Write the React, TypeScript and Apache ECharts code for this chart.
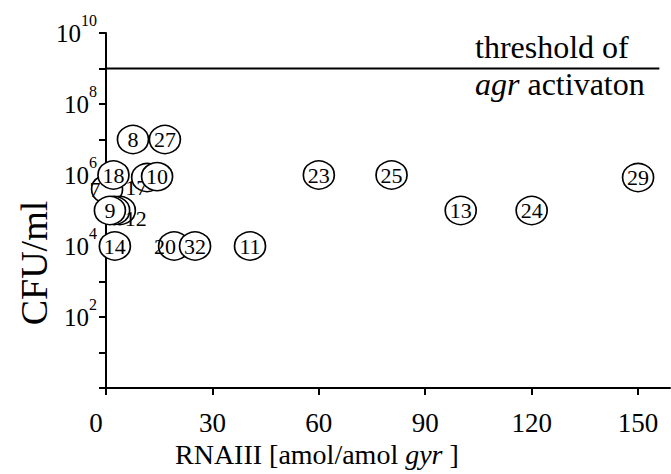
import React, { useEffect, useRef } from 'react';
import * as echarts from 'echarts';

// ---- data ----
const xTickValues = [0, 30, 60, 90, 120, 150];
const yTickValues = [1, 1e1, 1e2, 1e3, 1e4, 1e5, 1e6, 1e7, 1e8, 1e9, 1e10];
const yLabelValues = [1e2, 1e4, 1e6, 1e8, 1e10];

// visible (front) strains
const frontIds = ['8', '27', '18', '10', '9', '14', '32', '11', '23', '25', '13', '24', '29'];
const frontRna = [7.6, 16.6, 2.1, 14.4, 1.1, 2.5, 25.1, 40.6, 60, 80.5, 100, 120, 150];
const frontCfu = [1e7, 1e7, 1e6, 9e5, 1e5, 1e4, 1e4, 1e4, 1e6, 1e6, 1e5, 1e5, 8.5e5];

// partly hidden (back) strains
const backIds = ['7', '17', '12', '', '20'];
const backRna = [0.3, 11.6, 3.9, 2.3, 19.2];
const backCfu = [4e5, 8.5e5, 1e5, 1e5, 1e4];

const thresholdCfu = 1e9;
const thresholdRna = [0, 156];

// label offsets (style, not data)
const labelOffsets: Record<string, number[]> = {
  '7': [-12, 0],
  '17': [-11, 10],
  '12': [16, 8],
  '20': [-9, 0],
};

const FONT = 'Liberation Serif';

export default function App() {
  const ref = useRef<HTMLDivElement>(null);
  useEffect(() => {
    if (!ref.current) return;
    const chart = echarts.init(ref.current, null, { renderer: 'svg' });

    const mk = (ids: string[], xs: number[], ys: number[]) =>
      ids.map((id, i) => ({
        name: id,
        value: [xs[i], ys[i]],
        label: labelOffsets[id] ? { offset: labelOffsets[id] } : undefined,
      }));

    const circleStyle = {
      type: 'scatter',
      symbol: 'circle',
      symbolSize: [31, 28],
      itemStyle: { color: '#fff', borderColor: '#000', borderWidth: 1.6, opacity: 1 },
      label: {
        show: true,
        position: 'inside',
        formatter: (p: any) => p.name,
        color: '#000',
        fontSize: 22,
        fontFamily: FONT,
      },
      emphasis: { disabled: true },
    };

    chart.setOption({
      animation: false,
      backgroundColor: '#fff',
      textStyle: { fontFamily: FONT, color: '#000' },
      grid: { left: 106, right: 1, top: 33, bottom: 86, containLabel: false },
      xAxis: {
        type: 'value',
        min: 0,
        max: 159,
        axisLine: { onZero: false, lineStyle: { color: '#000', width: 2 } },
        axisTick: {
          show: true,
          length: 7,
          customValues: xTickValues,
          lineStyle: { color: '#000', width: 2 },
        },
        axisLabel: {
          customValues: xTickValues,
          margin: 21,
          color: '#000',
          fontSize: 27,
          fontFamily: FONT,
          formatter: (v: number) => (v === 0 ? '{z|0}' : '{n|' + v + '}'),
          rich: {
            n: { fontSize: 27, fontFamily: FONT, color: '#000' },
            z: { fontSize: 27, fontFamily: FONT, color: '#000', padding: [0, 20, 0, 0] },
          },
        },
        splitLine: { show: false },
      },
      yAxis: {
        type: 'log',
        logBase: 10,
        min: 1,
        max: 1e10,
        axisLine: { show: true, onZero: false, lineStyle: { color: '#000', width: 2 } },
        axisTick: {
          show: true,
          length: 7,
          customValues: yTickValues,
          lineStyle: { color: '#000', width: 2 },
        },
        axisLabel: {
          customValues: yLabelValues,
          margin: 9,
          fontFamily: FONT,
          color: '#000',
          formatter: (v: number) => {
            const e = Math.round(Math.log10(v));
            if (e === 0 || e % 2 !== 0) return '';
            return `{b|10}{e|${e}}`;
          },
          rich: {
            b: { fontSize: 25, lineHeight: 25, fontFamily: FONT, color: '#000' },
            e: { fontSize: 16, lineHeight: 16, fontFamily: FONT, color: '#000', padding: [0, 0, 26, 0] },
          },
        },
        splitLine: { show: false },
      },
      series: [
        {
          type: 'line',
          data: thresholdRna.map((x) => [x, thresholdCfu]),
          symbol: 'none',
          lineStyle: { color: '#000', width: 2.2 },
          z: 1,
          silent: true,
        },
        { ...circleStyle, z: 2, data: mk(backIds, backRna, backCfu) },
        { ...circleStyle, z: 3, data: mk(frontIds, frontRna, frontCfu) },
      ],
      graphic: [
        {
          type: 'text',
          x: 34,
          y: 263,
          rotation: Math.PI / 2,
          style: {
            text: 'CFU/ml',
            fontSize: 38,
            fontFamily: FONT,
            fill: '#000',
            align: 'center',
            verticalAlign: 'middle',
            textAlign: 'center',
            textVerticalAlign: 'middle',
          },
        },
        {
          type: 'text',
          x: 175,
          y: 454,
          style: {
            text: 'RNAIII [amol/amol {i|gyr} ]',
            fontSize: 28,
            fontFamily: FONT,
            fill: '#000',
            align: 'left',
            verticalAlign: 'middle',
            textAlign: 'left',
            textVerticalAlign: 'middle',
            rich: { i: { fontStyle: 'italic', fontSize: 28, fontFamily: FONT, fill: '#000' } },
          },
        },
        {
          type: 'text',
          x: 475,
          y: 47,
          style: {
            text: 'threshold of',
            fontSize: 32,
            fontFamily: FONT,
            fill: '#000',
            align: 'left',
            verticalAlign: 'middle',
            textAlign: 'left',
            textVerticalAlign: 'middle',
          },
        },
        {
          type: 'text',
          x: 475,
          y: 84,
          style: {
            text: '{i|agr} activaton',
            fontSize: 32,
            fontFamily: FONT,
            fill: '#000',
            align: 'left',
            verticalAlign: 'middle',
            textAlign: 'left',
            textVerticalAlign: 'middle',
            rich: { i: { fontStyle: 'italic', fontSize: 32, fontFamily: FONT, fill: '#000' } },
          },
        },
      ],
    });
    return () => chart.dispose();
  }, []);
  return (
    <div
      ref={ref}
      style={{ position: 'fixed', left: 0, top: 0, width: 671, height: 474, background: '#fff' }}
    />
  );
}
